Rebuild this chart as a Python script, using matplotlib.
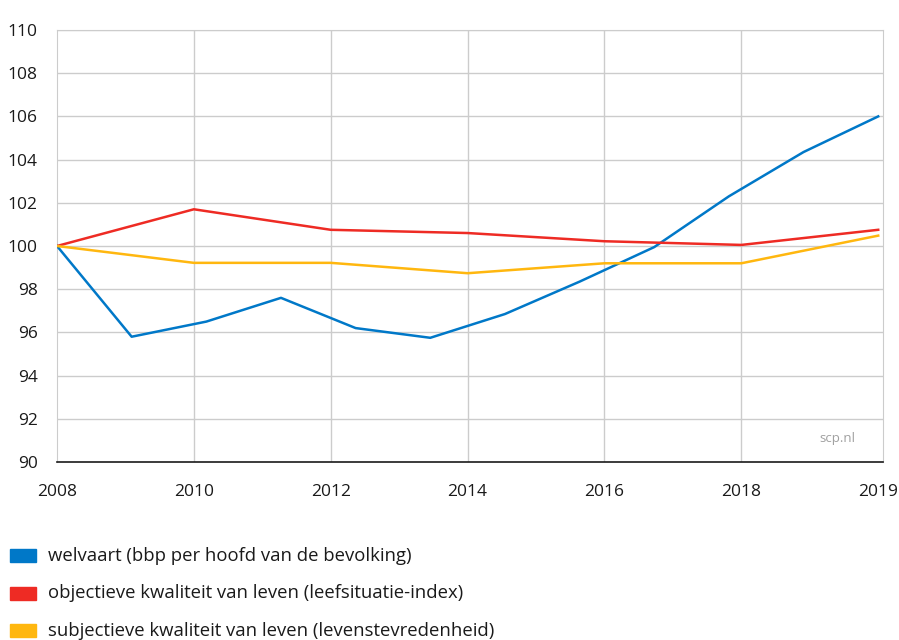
import numpy as np
import matplotlib
matplotlib.use("Agg")
import matplotlib.pyplot as plt
from matplotlib.patches import Rectangle

plt.rcParams['font.family'] = ['Open Sans', 'DejaVu Sans']

# tick labels on the (categorical) x axis
tick_labels = ['2008', '2010', '2012', '2014', '2016', '2018', '2019']

# yearly values 2008-2019
welvaart = [100, 95.8, 96.5, 97.6, 96.2, 95.75, 96.85, 98.35, 99.95, 102.3, 104.35, 106.0]
# values at the tick years
objectief = [100, 101.7, 100.75, 100.6, 100.22, 100.05, 100.75]
subjectief = [100, 99.22, 99.22, 98.74, 99.2, 99.2, 100.48]

labels = ['welvaart (bbp per hoofd van de bevolking)',
          'objectieve kwaliteit van leven (leefsituatie-index)',
          'subjectieve kwaliteit van leven (levenstevredenheid)']
colors = ['#0078C8', '#EE2B24', '#FFB70F']

fig = plt.figure(figsize=(8.99, 6.4), dpi=100)
ax = fig.add_axes([57 / 899, 1 - 462 / 640, 826 / 899, 432 / 640])

xt = np.arange(len(tick_labels))
xw = np.linspace(xt[0], xt[-1], len(welvaart))

ax.plot(xw, welvaart, color=colors[0], lw=1.8, zorder=3)
ax.plot(xt, objectief, color=colors[1], lw=1.8, zorder=3)
ax.plot(xt, subjectief, color=colors[2], lw=1.8, zorder=3)

ax.set_xlim(0, 6.035)
ax.set_ylim(90, 110)
ax.set_yticks(np.arange(90, 111, 2))
ax.set_xticks(xt)
ax.set_xticklabels(tick_labels)
ax.tick_params(length=0, labelsize=12.5, colors='#1a1a1a')
ax.tick_params(axis='y', pad=14)
ax.tick_params(axis='x', pad=16)

for y in np.arange(92, 111, 2):
    ax.axhline(y, color='#cccccc', lw=1, zorder=1)
for x in xt[1:-1]:
    ax.axvline(x, color='#cccccc', lw=1, zorder=1)

for s in ['top', 'left', 'right']:
    ax.spines[s].set_color('#cccccc')
ax.spines['bottom'].set_color('#1a1a1a')
ax.spines['bottom'].set_linewidth(1.2)

ax.text(0.967, 0.04, 'scp.nl', transform=ax.transAxes, ha='right', va='bottom',
        fontsize=9.5, color='#a0a0a0')

# legend
for i, (lab, c) in enumerate(zip(labels, colors)):
    yc = 1 - (556 + i * 37.5) / 640
    fig.patches.append(Rectangle((10 / 899, yc - 6 / 640), 26 / 899, 13 / 640,
                                 transform=fig.transFigure, color=c))
    fig.text(48 / 899, yc, lab, ha='left', va='center', fontsize=13.3, color='#1a1a1a')

fig.savefig('out.png', dpi=100)
